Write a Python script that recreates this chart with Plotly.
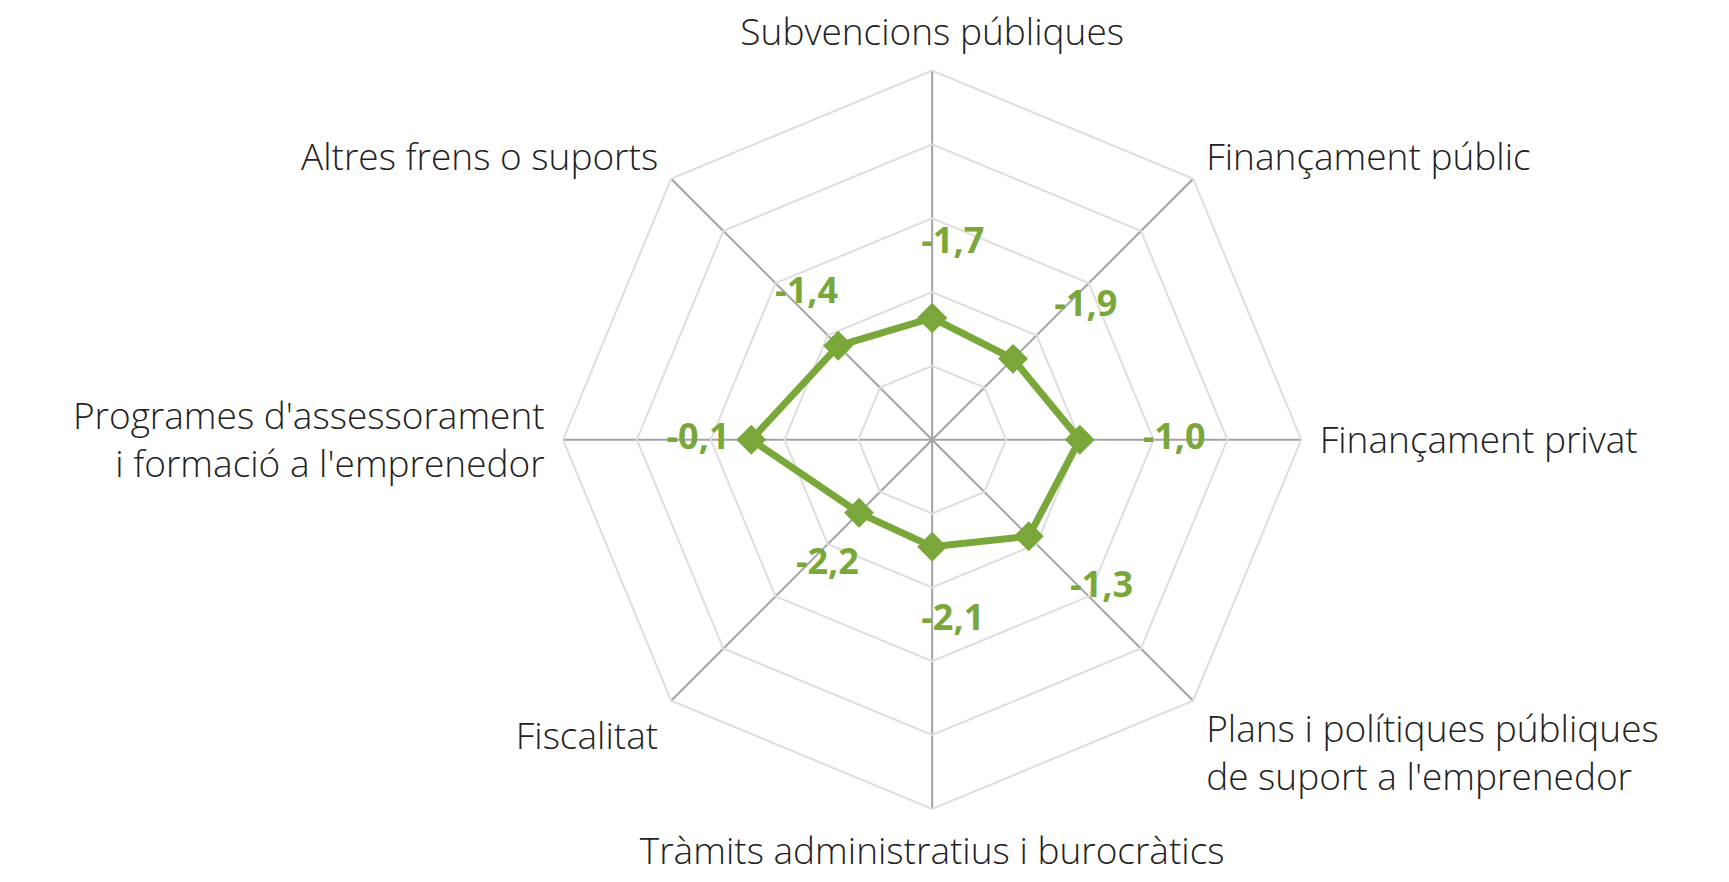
import plotly.graph_objects as go

CATEGORIES = [
    "Subvencions públiques",
    "Finançament públic",
    "Finançament privat",
    "Plans i polítiques públiques<br>de suport a l'emprenedor",
    "Tràmits administratius i burocràtics",
    "Fiscalitat",
    "Programes d'assessorament<br>i formació a l'emprenedor",
    "Altres frens o suports",
]
VALUES = [-1.7, -1.9, -1.0, -1.3, -2.1, -2.2, -0.1, -1.4]

# value scale of the chart: -5 at the centre, 5 at the outer ring, rings every 2
R_MIN, R_MAX, R_STEP = -5, 5, 2
LABEL_OFFSET = 2.0      # value labels sit this far outside their point

GREEN = "#7aa73a"
SPOKE = "#a3a3a3"
RING = "#dedede"
TEXT = "#222222"

# plotly hides markers/text on polar "linear" grids when the radial range is
# negative, so the radial axis is shifted to start at 0 (same geometry)
shift = -R_MIN
theta = CATEGORIES + CATEGORIES[:1]
r = [v + shift for v in VALUES + VALUES[:1]]

fig = go.Figure()
fig.add_trace(go.Scatterpolar(
    r=r, theta=theta,
    mode="lines+markers",
    line=dict(color=GREEN, width=7),
    marker=dict(symbol="diamond", size=23, color=GREEN),
    cliponaxis=False,
    showlegend=False,
    hoverinfo="skip",
))
# value labels (comma decimals), nudged right like the original
fig.add_trace(go.Scatterpolar(
    r=[v + shift + LABEL_OFFSET for v in VALUES],
    theta=CATEGORIES,
    mode="text",
    text=["<b>\u2007\u2007" + f"{v:.1f}".replace(".", ",") + "</b>" for v in VALUES],
    textposition="middle center",
    textfont=dict(family="Open Sans", size=36, color=GREEN),
    cliponaxis=False,
    showlegend=False,
    hoverinfo="skip",
))

fig.update_layout(
    width=1729, height=882,
    margin=dict(l=0, r=0, t=0, b=0),
    paper_bgcolor="white",
    plot_bgcolor="white",
    font=dict(family="Open Sans", size=37, color=TEXT, weight=300),
    polar=dict(
        domain=dict(x=[0.321, 0.748], y=[0.092, 0.929]),
        gridshape="linear",
        bgcolor="white",
        radialaxis=dict(
            range=[R_MIN + shift, R_MAX + shift], tick0=0, dtick=R_STEP,
            showticklabels=False, ticks="", showline=False,
            gridcolor=RING, gridwidth=2,
        ),
        angularaxis=dict(
            rotation=90, direction="clockwise",
            showline=True, linecolor=RING, linewidth=2,
            gridcolor=SPOKE, gridwidth=2,
            ticks="outside", ticklen=10, tickcolor="rgba(0,0,0,0)",
        ),
    ),
)

fig.write_html("out.html")
